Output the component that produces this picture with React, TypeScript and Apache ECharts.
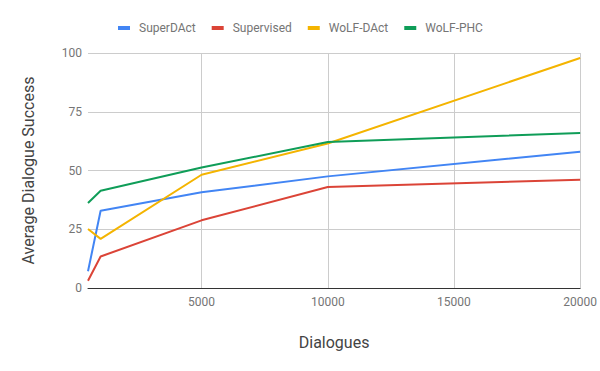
import React, { useEffect, useRef } from "react";
import * as echarts from "echarts";

const dialogues = [500, 1000, 5000, 10000, 20000];
const superDAct = [7.1, 32.9, 40.7, 47.5, 58.0];
const supervised = [3.1, 13.4, 28.8, 43.0, 46.1];
const wolfDAct = [25.1, 20.9, 48.2, 61.5, 97.9];
const wolfPHC = [36.2, 41.4, 51.3, 62.1, 66.0];
const xTicks = [5000, 10000, 15000, 20000];
const yTicks = [0, 25, 50, 75, 100];

const seriesDefs = [
  { name: "SuperDAct", data: superDAct, color: "#4285F4" },
  { name: "Supervised", data: supervised, color: "#DB4437" },
  { name: "WoLF-DAct", data: wolfDAct, color: "#F4B400" },
  { name: "WoLF-PHC", data: wolfPHC, color: "#0F9D58" },
];

export default function App() {
  const ref = useRef<HTMLDivElement>(null);
  useEffect(() => {
    if (!ref.current) return;
    const chart = echarts.init(ref.current, null, { renderer: "svg" });
    chart.setOption({
      animation: false,
      backgroundColor: "#ffffff",
      textStyle: { fontFamily: "Roboto" },
      legend: {
        left: 113,
        top: 17,
        itemWidth: 12,
        itemHeight: 4,
        itemGap: 16,
        icon: "rect",
        textStyle: { color: "#757575", fontSize: 12, fontFamily: "Roboto", padding: [0, 0, 0, 4] },
        data: seriesDefs.map((s) => ({ name: s.name, icon: "rect" })),
      },
      grid: { left: 88, right: 19, top: 53, bottom: 83, containLabel: false },
      xAxis: {
        type: "value",
        min: dialogues[0],
        max: 20000,
        name: "Dialogues",
        nameLocation: "middle",
        nameGap: 46,
        nameTextStyle: { color: "#444444", fontSize: 16, fontFamily: "Roboto" },
        axisLine: { show: true, onZero: false, lineStyle: { color: "#333333", width: 1 } },
        axisTick: { show: false, customValues: xTicks },
        axisLabel: {
          customValues: xTicks,
          formatter: (v: number) => String(v),
          color: "#757575",
          fontSize: 12,
          margin: 8,
          fontFamily: "Roboto",
          overflow: "none",
          width: 80,
          hideOverlap: false,
        },
        splitLine: { show: true, lineStyle: { color: "#cccccc", width: 1 } },
      },
      yAxis: {
        type: "value",
        min: yTicks[0],
        max: yTicks[yTicks.length - 1],
        interval: 25,
        name: "Average Dialogue Success",
        nameLocation: "middle",
        nameGap: 52,
        nameTextStyle: { color: "#444444", fontSize: 16, fontFamily: "Roboto" },
        axisLine: { show: false },
        axisTick: { show: false },
        axisLabel: { color: "#757575", fontSize: 12, margin: 6, fontFamily: "Roboto" },
        splitLine: { show: true, lineStyle: { color: "#cccccc", width: 1 } },
      },
      series: seriesDefs.map((s) => ({
        name: s.name,
        type: "line",
        data: dialogues.map((d, i) => [d, s.data[i]]),
        showSymbol: false,
        symbol: "none",
        lineStyle: { color: s.color, width: 2 },
        itemStyle: { color: s.color },
        color: s.color,
      })),
    });
    return () => chart.dispose();
  }, []);
  return (
    <div
      ref={ref}
      style={{ position: "absolute", left: 0, top: 0, width: 600, height: 371 }}
    />
  );
}
